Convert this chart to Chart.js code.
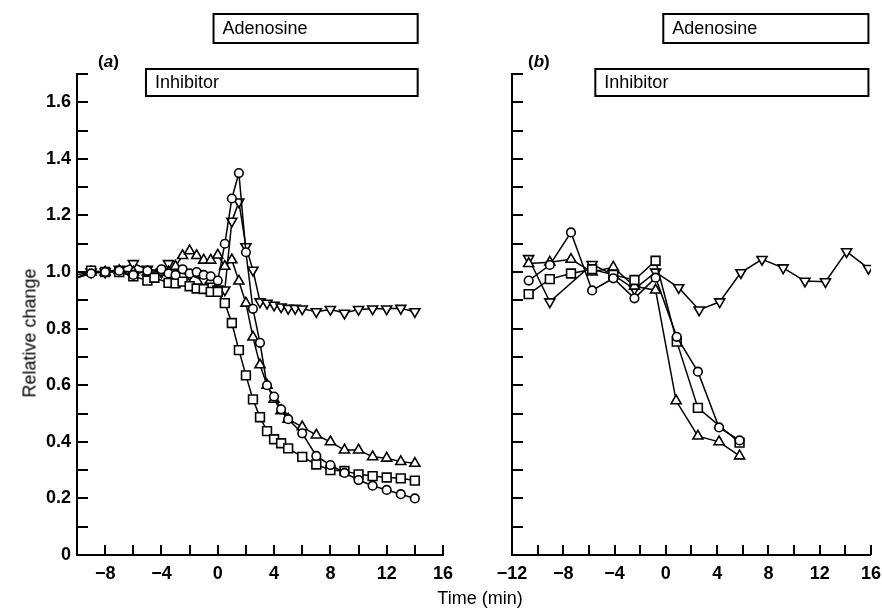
<!DOCTYPE html>
<html>
<head>
<meta charset="utf-8">
<script src="https://cdn.jsdelivr.net/npm/chart.js@4.4.1/dist/chart.umd.min.js"></script>
<style>
  html, body { margin: 0; padding: 0; background: #fff; overflow: hidden; }
  #wrap { position: relative; width: 882px; height: 613px; overflow: hidden; font-family: 'Liberation Sans', Arial, sans-serif; color: #000; }
  #chartA { position: absolute; left: 0; top: 0; }
  #chartB { position: absolute; left: 470px; top: 0; }
  .panel { position: absolute; font-size: 17px; font-weight: bold; }
  #ytitle { position: absolute; left: 30px; top: 333px; transform: translate(-50%, -50%) rotate(-90deg); font-size: 18px; white-space: nowrap; }
  #xtitle { position: absolute; left: 480px; top: 598px; transform: translate(-50%, -50%); font-size: 18px; font-family: 'Liberation Sans Narrow', 'Liberation Sans', sans-serif; white-space: nowrap; }
</style>
</head>
<body>
<div id="wrap">
  <canvas id="chartA" width="470" height="613"></canvas>
  <canvas id="chartB" width="419" height="613"></canvas>
  <div class="panel" style="left:98px; top:52px;">(<i>a</i>)</div>
  <div class="panel" style="left:528px; top:52px;">(<i>b</i>)</div>
  <div id="ytitle">Relative change</div>
  <div id="xtitle">Time (min)</div>
</div>
<script>
// ---- panel (a) ----
const aCircT = [-10, -9, -8, -7, -6, -5, -4, -3.5, -3, -2.5, -2, -1.5, -1, -0.5, 0, 0.5, 1, 1.5, 2, 2.5, 3, 3.5, 4, 4.5, 5, 6, 7, 8, 9, 10, 11, 12, 13, 14];
const aCircY = [0.98, 0.995, 1.0, 1.005, 0.99, 1.005, 1.01, 0.995, 0.99, 1.01, 0.995, 1.0, 0.99, 0.985, 0.97, 1.10, 1.26, 1.35, 1.07, 0.87, 0.75, 0.60, 0.56, 0.515, 0.48, 0.43, 0.35, 0.318, 0.29, 0.265, 0.245, 0.23, 0.215, 0.20];

const aSqT = [-10, -9, -8, -7, -6, -5, -4.5, -3.5, -3, -2.5, -2, -1.5, -1, -0.5, 0, 0.5, 1, 1.5, 2, 2.5, 3, 3.5, 4, 4.5, 5, 6, 7, 8, 9, 10, 11, 12, 13, 14];
const aSqY = [0.98, 1.005, 1.0, 1.0, 0.985, 0.97, 0.98, 0.962, 0.96, 0.966, 0.95, 0.942, 0.94, 0.93, 0.93, 0.89, 0.82, 0.724, 0.635, 0.55, 0.487, 0.438, 0.409, 0.395, 0.377, 0.347, 0.32, 0.30, 0.297, 0.285, 0.279, 0.274, 0.271, 0.263];

const aUpT = [-10, -9, -8, -7, -6, -5, -4, -3.5, -3, -2.5, -2, -1.5, -1, -0.5, 0, 0.5, 1, 1.5, 2, 2.5, 3, 3.5, 4, 4.5, 5, 6, 7, 8, 9, 10, 11, 12, 13, 14];
const aUpY = [0.99, 1.0, 1.0, 1.005, 1.0, 1.0, 1.0, 1.0, 1.02, 1.058, 1.075, 1.058, 1.042, 1.042, 1.06, 1.02, 1.043, 0.968, 0.89, 0.77, 0.672, 0.60, 0.55, 0.51, 0.48, 0.453, 0.424, 0.40, 0.371, 0.371, 0.347, 0.342, 0.33, 0.324];

const aDownT = [-10, -9, -8, -7, -6, -5, -4, -3.5, -3, -2, -1, -0.5, 0, 0.5, 1, 1.5, 2, 2.5, 3, 3.5, 4, 4.5, 5, 5.5, 6, 7, 8, 9, 10, 11, 12, 13, 14];
const aDownY = [0.98, 1.0, 1.0, 1.01, 1.03, 1.01, 1.0, 1.03, 1.0, 0.99, 0.97, 0.95, 0.94, 0.937, 1.18, 1.248, 1.09, 1.007, 0.895, 0.89, 0.883, 0.877, 0.872, 0.872, 0.87, 0.86, 0.868, 0.855, 0.868, 0.87, 0.87, 0.872, 0.86];

// ---- panel (b) ----
const bCircT = [-10.7, -9.05, -7.4, -5.75, -4.1, -2.45, -0.8, 0.85, 2.5, 4.15, 5.75];
const bCircY = [0.97, 1.025, 1.14, 0.935, 0.978, 0.907, 0.98, 0.771, 0.648, 0.451, 0.405];

const bSqT = [-10.7, -9.05, -7.4, -5.75, -4.1, -2.45, -0.8, 0.85, 2.5, 5.75];
const bSqY = [0.922, 0.975, 0.995, 1.01, 0.99, 0.972, 1.04, 0.754, 0.52, 0.397];

const bUpT = [-10.7, -9.05, -7.4, -5.75, -4.1, -2.45, -0.8, 0.8, 2.5, 4.15, 5.75];
const bUpY = [1.03, 1.035, 1.045, 1.0, 1.017, 0.95, 0.936, 0.545, 0.42, 0.40, 0.35];

const bDownT = [-10.7, -9.05, -5.75, -4.1, -2.45, -0.8, 1.0, 2.6, 4.2, 5.85, 7.5, 9.15, 10.85, 12.45, 14.1, 15.8];
const bDownY = [1.048, 0.895, 1.027, 0.99, 0.94, 1.0, 0.945, 0.866, 0.895, 0.998, 1.045, 1.015, 0.968, 0.966, 1.072, 1.013];

// treatment bars (time spans, min)
const adenosineA = [-0.3, 14.2];
const inhibitorA = [-5.1, 14.2];
const adenosineB = [-0.2, 15.8];
const inhibitorB = [-5.5, 15.8];

const pts = (t, v) => t.map((x, i) => ({ x: x, y: v[i] }));

function series(t, v, style, radius, rotation, xMin) {
  return {
    data: pts(t, v),
    borderColor: '#000',
    borderWidth: 1.5,
    backgroundColor: '#fff',
    pointStyle: style,
    pointRotation: rotation,
    pointBackgroundColor: '#fff',
    pointBorderColor: '#000',
    pointBorderWidth: 1.6,
    pointRadius: ctx => (ctx.raw && ctx.raw.x <= xMin) ? 0 : radius,
    tension: 0,
    fill: false
  };
}

// inward tick marks + treatment boxes
const decorPlugin = {
  id: 'decor',
  afterDraw(chart, args, opts) {
    const { ctx, chartArea: a, scales: { x, y } } = chart;
    ctx.save();
    ctx.strokeStyle = '#000';
    ctx.lineWidth = 2;
    ctx.beginPath();
    x.ticks.forEach(t => {
      if (t.value === x.min) return;
      const px = Math.round(x.getPixelForValue(t.value));
      ctx.moveTo(px, a.bottom);
      ctx.lineTo(px, a.bottom - 10);
    });
    y.ticks.forEach(t => {
      if (t.value === y.min) return;
      const py = Math.round(y.getPixelForValue(t.value));
      ctx.moveTo(a.left, py);
      ctx.lineTo(a.left + 11, py);
    });
    ctx.stroke();

    (opts.boxes || []).forEach(b => {
      const x0 = x.getPixelForValue(b.span[0]);
      const x1 = x.getPixelForValue(b.span[1]);
      ctx.fillStyle = '#fff';
      ctx.fillRect(x0, b.top, x1 - x0, b.bottom - b.top);
      ctx.lineWidth = 2;
      ctx.strokeRect(x0, b.top, x1 - x0, b.bottom - b.top);
      ctx.fillStyle = '#000';
      ctx.font = '18px "Liberation Sans", Arial, sans-serif';
      ctx.textBaseline = 'middle';
      ctx.textAlign = 'left';
      ctx.fillText(b.label, x0 + 9, (b.top + b.bottom) / 2 + 1);
    });
    ctx.restore();
  }
};

const tickFont = { family: "'Liberation Sans', Arial, sans-serif", size: 18, weight: 'bold' };

function xLabel(v) {
  if (v % 4 !== 0) return '';
  return v < 0 ? '\u2212' + Math.abs(v) : String(v);
}
function yLabel(v) {
  const k = Math.round(v * 10);
  if (k % 2 !== 0) return '';
  return k === 0 ? '0' : (k / 10).toFixed(1);
}

function makeChart(id, datasets, xMin, yWidth, showY, padRight, boxes) {
  return new Chart(document.getElementById(id), {
    type: 'line',
    data: { datasets: datasets },
    plugins: [decorPlugin],
    options: {
      responsive: false,
      animation: false,
      layout: { padding: { top: 74, right: padRight, bottom: 0, left: 0 } },
      plugins: {
        legend: { display: false },
        tooltip: { enabled: false },
        decor: { boxes: boxes }
      },
      scales: {
        x: {
          type: 'linear',
          min: xMin,
          max: 16,
          afterFit: s => { s.height = 58; },
          grid: { display: false, drawTicks: false },
          border: { display: true, color: '#000', width: 2 },
          ticks: {
            stepSize: 2,
            autoSkip: false,
            maxRotation: 0,
            padding: 8,
            color: '#000',
            font: tickFont,
            callback: xLabel
          }
        },
        y: {
          min: 0,
          max: 1.7,
          afterFit: s => { s.width = yWidth; },
          grid: { display: false, drawTicks: false },
          border: { display: true, color: '#000', width: 2 },
          ticks: {
            display: showY,
            stepSize: 0.1,
            autoSkip: false,
            padding: 6,
            color: '#000',
            font: tickFont,
            callback: yLabel
          }
        }
      }
    }
  });
}

makeChart('chartA', [
  series(aCircT, aCircY, 'circle', 4.3, 0, -10),
  series(aSqT, aSqY, 'rect', 6.2, 0, -10),
  series(aUpT, aUpY, 'triangle', 5.8, 0, -10),
  series(aDownT, aDownY, 'triangle', 5.8, 180, -10)
], -10, 77, true, 27, [
  { label: 'Adenosine', span: adenosineA, top: 14, bottom: 43 },
  { label: 'Inhibitor', span: inhibitorA, top: 69, bottom: 96 }
]);

makeChart('chartB', [
  series(bCircT, bCircY, 'circle', 4.3, 0, -99),
  series(bSqT, bSqY, 'rect', 6.2, 0, -99),
  series(bUpT, bUpY, 'triangle', 5.8, 0, -99),
  series(bDownT, bDownY, 'triangle', 5.8, 180, -99)
], -12, 42, false, 11, [
  { label: 'Adenosine', span: adenosineB, top: 14, bottom: 43 },
  { label: 'Inhibitor', span: inhibitorB, top: 69, bottom: 96 }
]);
</script>
</body>
</html>
